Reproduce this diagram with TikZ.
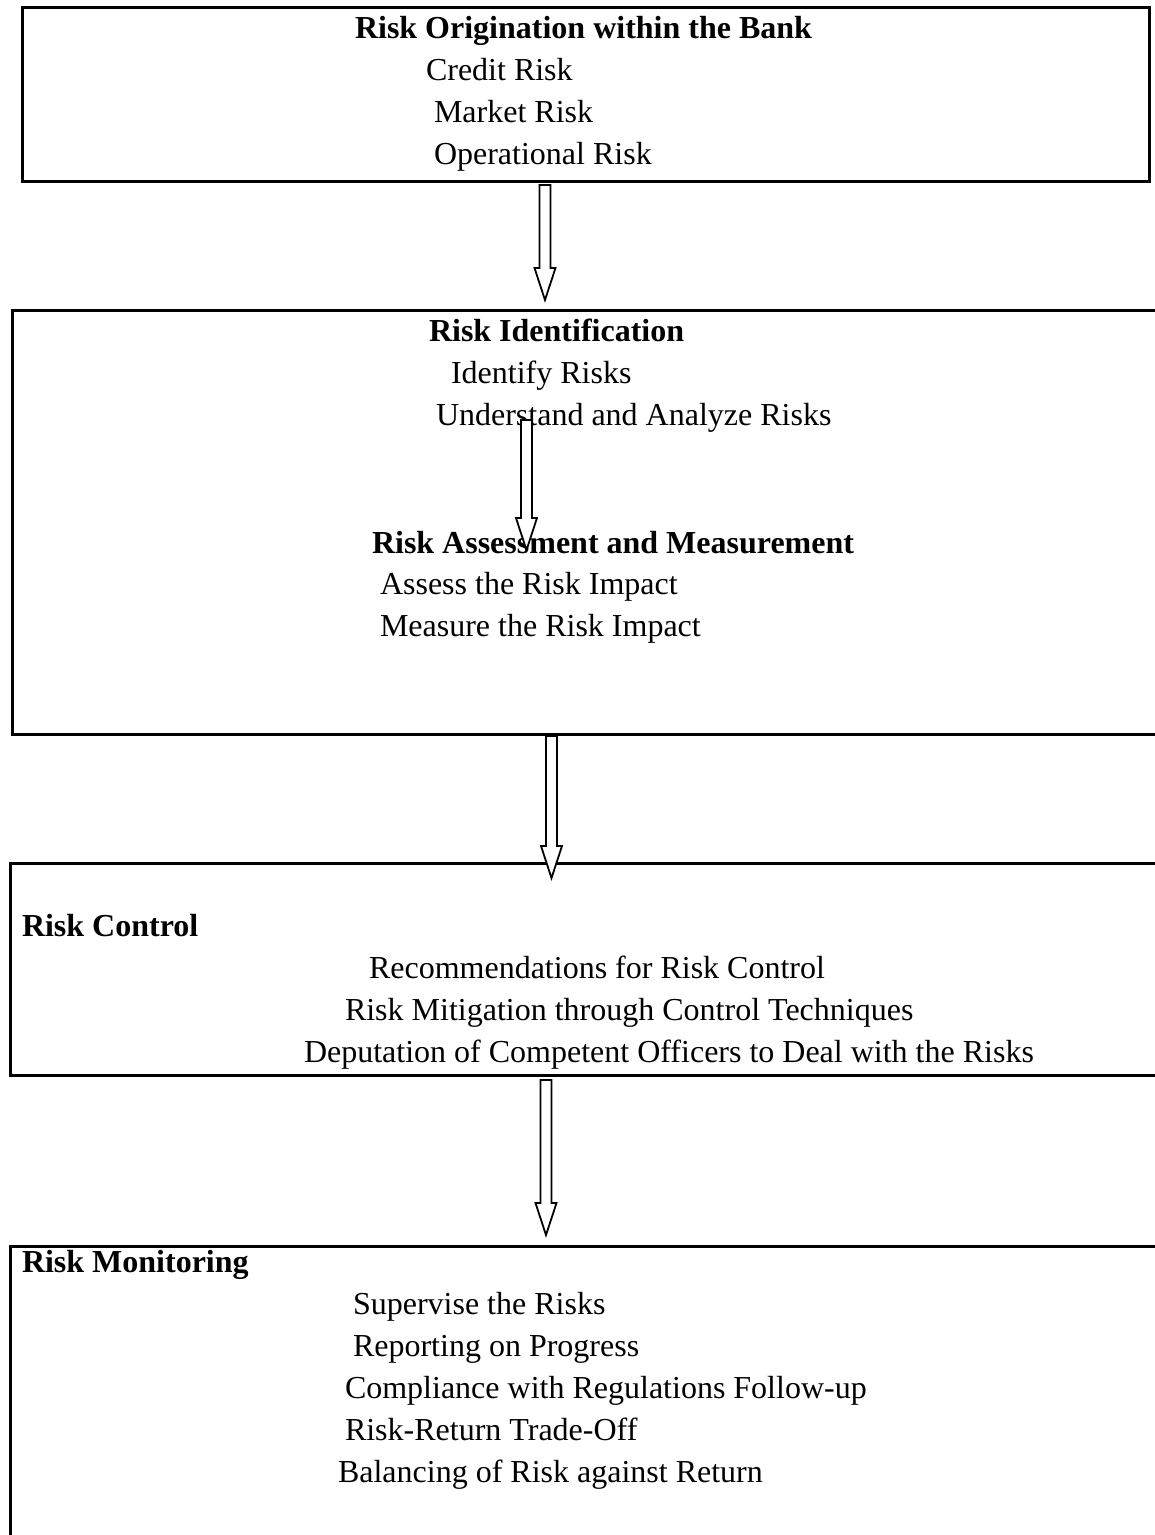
\documentclass[tikz,border=0pt]{standalone}
\usepackage{fontspec}
\setmainfont{Liberation Serif}
\usetikzlibrary{calc}
\tikzset{
  box/.style={draw=black, line width=3pt},
  txt/.style={anchor=base west, inner sep=0pt, outer sep=0pt, font=\fontsize{32}{42}\selectfont},
  head/.style={txt, font=\fontsize{32}{42}\selectfont\bfseries},
  blockarrow/.style={draw=black, fill=white, line width=1.8pt, line join=miter}
}
\newcommand\blockarr[2]{%
  \draw[blockarrow] let \p1=(#1), \p2=(#2) in
    (\x1-5.5pt,\y1) -- (\x1+5.5pt,\y1) -- (\x1+5.5pt,\y2+32pt) -- (\x1+10.5pt,\y2+32pt)
    -- (\x2,\y2) -- (\x1-10.5pt,\y2+32pt) -- (\x1-5.5pt,\y2+32pt) -- cycle;}
\begin{document}
\begin{tikzpicture}[x=1pt,y=-1pt]
\useasboundingbox (0,0) rectangle (1155,1535);
\clip (0,0) rectangle (1155,1535);
% boxes
\draw[box] (22,7) rectangle (1149,181);
\draw[box] (12,310) rectangle (1170,734);
\draw[box] (10,863) rectangle (1170,1075);
\draw[box] (10,1246) rectangle (1170,1560);
\coordinate (b1) at (22,7);
% box 1 text
\node[head] (t1) at (355,38) {Risk Origination within the Bank};
\node[txt] (t1a) at (426,80) {Credit Risk};
\node[txt] (t1b) at (434,122) {Market Risk};
\node[txt] (t1c) at (434,164) {Operational Risk};
% box 2 text
\node[head] (t2) at (429,341) {Risk Identification};
\node[txt] (t2a) at (451,383) {Identify Risks};
\node[txt] (t2b) at (436,425) {Understand and Analyze Risks};
\node[head] (t3) at (372,553) {Risk Assessment and Measurement};
\node[txt] (t3a) at (380,594) {Assess the Risk Impact};
\node[txt] (t3b) at (380,636) {Measure the Risk Impact};
% box 3 text
\node[head] (t4) at (22,936) {Risk Control};
\node[txt] (t4a) at (369,978) {Recommendations for Risk Control};
\node[txt] (t4b) at (345,1020) {Risk Mitigation through Control Techniques};
\node[txt] (t4c) at (304,1062) {Deputation of Competent Officers to Deal with the Risks};
% box 4 text
\node[head] (t5) at (22,1272) {Risk Monitoring};
\node[txt] (t5a) at (353,1314) {Supervise the Risks};
\node[txt] (t5b) at (353,1356) {Reporting on Progress};
\node[txt] (t5c) at (345,1398) {Compliance with Regulations Follow-up};
\node[txt] (t5d) at (345,1440) {Risk-Return Trade-Off};
\node[txt] (t5e) at (338,1482) {Balancing of Risk against Return};
% arrows
\coordinate (a1s) at (545,185);  \coordinate (a1e) at (545,300);
\coordinate (a2s) at (526.5,420); \coordinate (a2e) at (526.5,550);
\coordinate (a3s) at (551.5,736); \coordinate (a3e) at (551.5,878);
\coordinate (a4s) at (546,1080); \coordinate (a4e) at (546,1235);
\blockarr{a1s}{a1e}
\blockarr{a2s}{a2e}
\blockarr{a3s}{a3e}
\blockarr{a4s}{a4e}
\end{tikzpicture}
\end{document}
